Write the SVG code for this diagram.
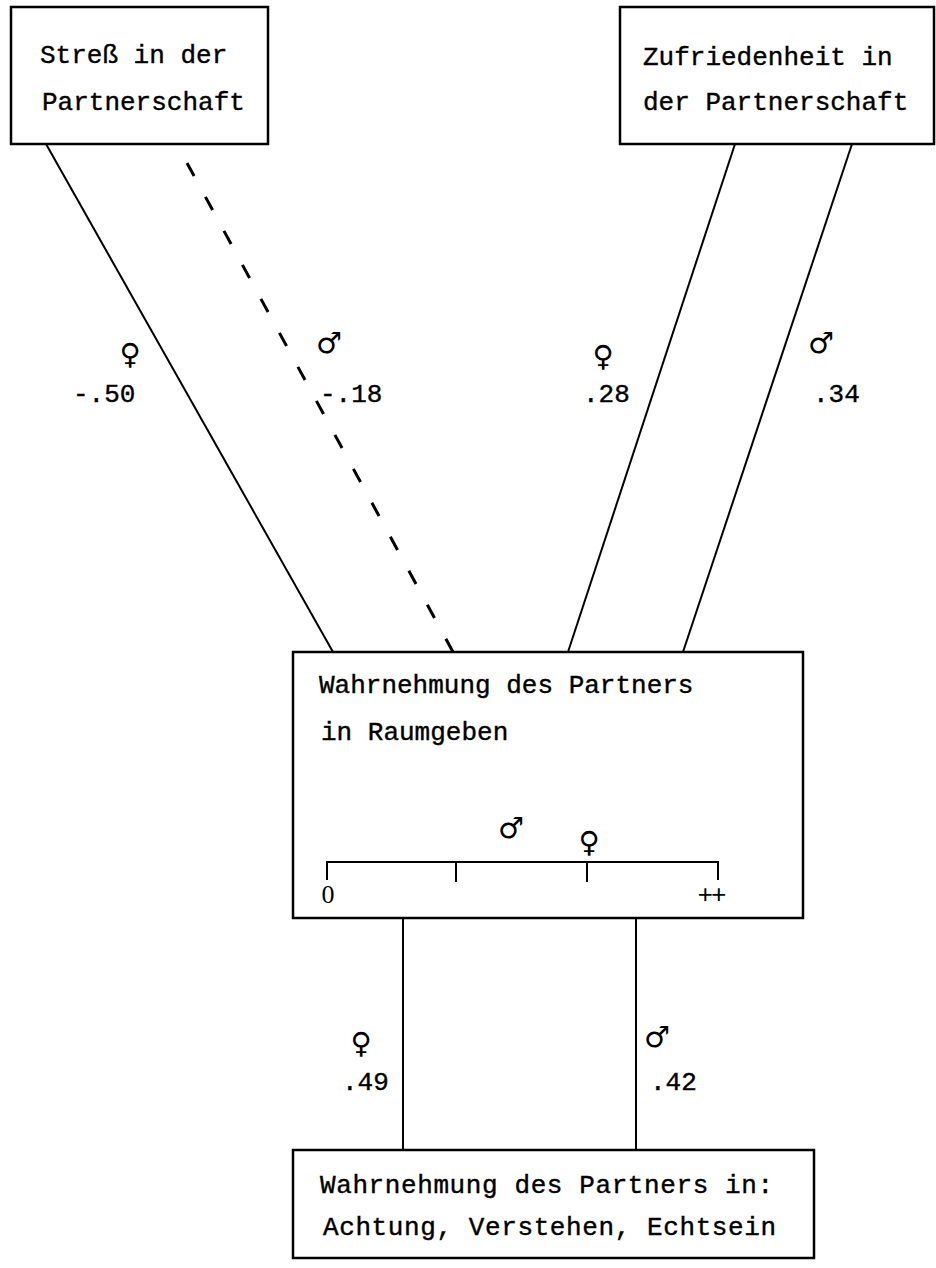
<svg xmlns="http://www.w3.org/2000/svg" width="936" height="1268" viewBox="0 0 936 1268">
<style>
.box{fill:#fff;stroke:#000;stroke-width:2.5}
.t{font-family:"Liberation Mono",monospace;font-size:26px;fill:#000;stroke:#000;stroke-width:0.4}
.lab{font-family:"Liberation Mono",monospace;font-size:26px;fill:#000;stroke:#000;stroke-width:0.4}
.sym{font-family:"DejaVu Sans",sans-serif;font-size:29px;font-weight:bold;fill:#000;text-anchor:middle}
.ln{stroke:#000;stroke-width:2;fill:none}
.dash{stroke:#000;stroke-width:3;fill:none;stroke-dasharray:15 23.7}
.sc{font-family:"Liberation Serif",serif;font-size:26px;fill:#000;text-anchor:middle}
.pp{font-family:"Liberation Mono",monospace;font-size:26px;fill:#000;text-anchor:middle;letter-spacing:-2px}
</style>
<rect width="936" height="1268" fill="#fff"/>
<g id="connectors">
<line class="ln" x1="46" y1="144" x2="333" y2="652"/>
<line class="dash" x1="453" y1="652" x2="187" y2="163"/>
<line class="ln" x1="735" y1="144" x2="568" y2="652"/>
<line class="ln" x1="852" y1="144" x2="683" y2="652"/>
<line class="ln" x1="403" y1="918" x2="403" y2="1150"/>
<line class="ln" x1="636" y1="918" x2="636" y2="1150"/>
<text class="sym" x="130" y="364">♀</text>
<text class="lab" x="73" y="402">-.50</text>
<text class="sym" x="329" y="353">♂</text>
<text class="lab" x="320" y="402">-.18</text>
<text class="sym" x="603" y="366">♀</text>
<text class="lab" x="583" y="402">.28</text>
<text class="sym" x="821" y="353">♂</text>
<text class="lab" x="813" y="402">.34</text>
<text class="sym" x="361" y="1053">♀</text>
<text class="lab" x="342" y="1090">.49</text>
<text class="sym" x="657" y="1047">♂</text>
<text class="lab" x="650" y="1090">.42</text>
</g>
<g id="node-stress">
<rect class="box" x="11" y="7" width="257" height="137"/>
<text class="t" x="40" y="63">Streß in der</text>
<text class="t" x="42" y="110">Partnerschaft</text>
</g>
<g id="node-zufriedenheit">
<rect class="box" x="620" y="7" width="314" height="137"/>
<text class="t" x="643" y="65">Zufriedenheit in</text>
<text class="t" x="643" y="110">der Partnerschaft</text>
</g>
<g id="node-raumgeben">
<rect class="box" x="293" y="652" width="510" height="266"/>
<text class="t" x="319" y="693">Wahrnehmung des Partners</text>
<text class="t" x="321" y="740">in Raumgeben</text>
<path class="ln" d="M327 880 V862 H718 V880 M456 862 V882 M587 862 V882"/>
<text class="sym" x="511" y="838">♂</text>
<text class="sym" x="589" y="852">♀</text>
<text class="sc" x="328" y="903">0</text>
<text class="pp" x="711" y="903">++</text>
</g>
<g id="node-achtung">
<rect class="box" x="293" y="1150" width="521" height="108"/>
<text class="t" x="320" y="1193" letter-spacing="0.6">Wahrnehmung des Partners in:</text>
<text class="t" x="323" y="1235" letter-spacing="0.6">Achtung, Verstehen, Echtsein</text>
</g>
</svg>
